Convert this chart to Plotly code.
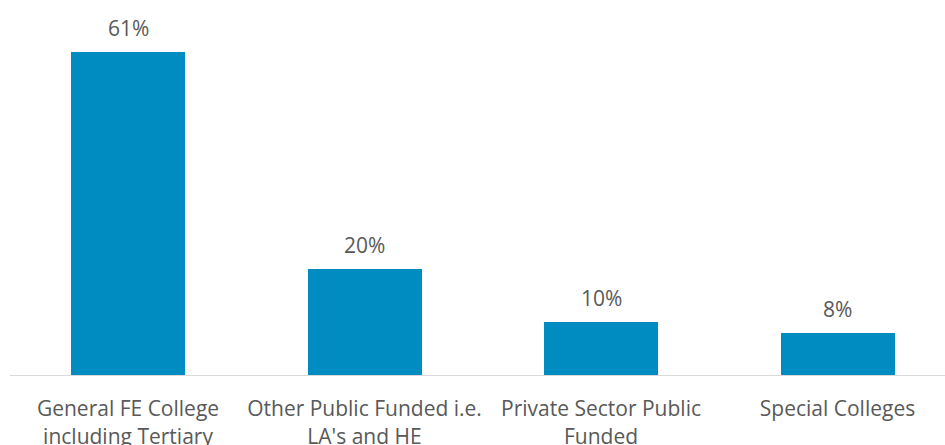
import plotly.graph_objects as go

categories = [
    "General FE College<br>including Tertiary",
    "Other Public Funded i.e.<br>LA's and HE",
    "Private Sector Public<br>Funded",
    "Special Colleges",
]
shares = [61, 20, 10, 8]
share_labels = ["61%", "20%", "10%", "8%"]

BAR_COLOR = "#008BC1"
TEXT_COLOR = "#595959"
FONT = "Open Sans"

fig = go.Figure()
fig.add_trace(go.Bar(
    x=list(range(len(categories))),
    y=shares,
    width=0.482,
    marker=dict(color=BAR_COLOR, line=dict(width=0)),
    hoverinfo="skip",
))

for i, (v, lab) in enumerate(zip(shares, share_labels)):
    fig.add_annotation(
        x=i, y=v, text=lab, showarrow=False,
        yanchor="bottom", yshift=8,
        font=dict(family=FONT, size=21, color=TEXT_COLOR),
    )

fig.update_layout(
    width=945, height=445,
    margin=dict(l=10, r=0, t=0, b=70),
    paper_bgcolor="white", plot_bgcolor="white",
    showlegend=False,
    font=dict(family=FONT, size=21, color=TEXT_COLOR),
    bargap=0,
)
fig.update_xaxes(
    range=[-0.499, 3.4545],
    tickmode="array",
    tickvals=list(range(len(categories))),
    ticktext=categories,
    showline=True, linecolor="#D9D9D9", linewidth=1,
    ticks="", showgrid=False, zeroline=False,
    automargin=False,
    ticklabelstandoff=15,
    tickfont=dict(family=FONT, size=21, color=TEXT_COLOR),
)
fig.update_yaxes(
    range=[0, 70.82],
    visible=False,
    automargin=False,
)

fig.write_html("out.html")
